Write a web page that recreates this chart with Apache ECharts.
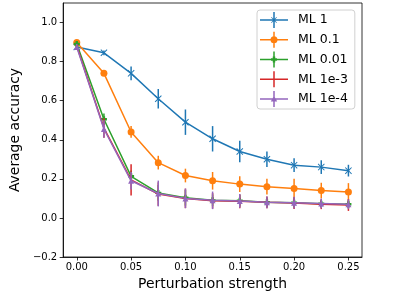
<!DOCTYPE html>
<html>
<head>
<meta charset="utf-8">
<script src="https://cdn.jsdelivr.net/npm/echarts@6/dist/echarts.min.js"></script>
<style>html,body{margin:0;padding:0;background:#fff;}#c{width:399px;height:296px;}</style>
</head>
<body>
<div id="c"></div>
<script>
const xs = [0, 0.025, 0.05, 0.075, 0.1, 0.125, 0.15, 0.175, 0.2, 0.225, 0.25];
const xTicks = [0, 0.05, 0.1, 0.15, 0.2, 0.25];
const yTicks = [-0.2, 0, 0.2, 0.4, 0.6, 0.8, 1.0];
const names = ['ML 1', 'ML 0.1', 'ML 0.01', 'ML 1e-3', 'ML 1e-4'];
const ml1      = [0.875, 0.845, 0.74, 0.61, 0.49, 0.405, 0.34, 0.30, 0.27, 0.26, 0.242];
const ml1Err   = [0.01, 0.012, 0.035, 0.05, 0.065, 0.065, 0.055, 0.04, 0.035, 0.035, 0.03];
const ml01     = [0.898, 0.74, 0.44, 0.283, 0.217, 0.19, 0.173, 0.16, 0.15, 0.14, 0.133];
const ml01Err  = [0.01, 0.01, 0.03, 0.035, 0.035, 0.045, 0.04, 0.04, 0.05, 0.04, 0.045];
const ml001    = [0.89, 0.505, 0.213, 0.128, 0.103, 0.09, 0.088, 0.08, 0.078, 0.073, 0.07];
const ml001Err = [0.01, 0.03, 0.03, 0.04, 0.04, 0.03, 0.03, 0.025, 0.025, 0.02, 0.02];
const ml1e3    = [0.88, 0.46, 0.195, 0.122, 0.1, 0.088, 0.085, 0.08, 0.076, 0.07, 0.066];
const ml1e3Err = [0.01, 0.05, 0.08, 0.06, 0.05, 0.04, 0.035, 0.03, 0.03, 0.025, 0.03];
const ml1e4    = [0.875, 0.455, 0.19, 0.125, 0.1, 0.09, 0.087, 0.08, 0.078, 0.074, 0.07];
const ml1e4Err = [0.015, 0.045, 0.045, 0.066, 0.05, 0.045, 0.035, 0.03, 0.03, 0.025, 0.025];

const values = [ml1, ml01, ml001, ml1e3, ml1e4];
const errs = [ml1Err, ml01Err, ml001Err, ml1e3Err, ml1e4Err];
const colors = ['#1f77b4', '#ff7f0e', '#2ca02c', '#d62728', '#9467bd'];

const SYM_X = 'path://M0 1 L1 0 L5 4 L9 0 L10 1 L6 5 L10 9 L9 10 L5 6 L1 10 L0 9 L4 5 Z';
const SYM_P = 'path://M3 0 H7 V3 H10 V7 H7 V10 H3 V7 H0 V3 H3 Z';
const symbols = [SYM_X, 'circle', SYM_P, 'none', 'triangle'];
const symSizes = [7, 7, 6, 0, 6];

const base = 'M0 7.25 H28 V8.75 H0 Z M13.25 0 H14.75 V16 H13.25 Z ';
const icons = [
  'path://' + base + 'M11.1 5.6 L11.6 5.1 L16.9 10.4 L16.4 10.9 Z M16.4 5.1 L16.9 5.6 L11.6 10.9 L11.1 10.4 Z',
  'path://' + base + 'M10.5 8 A3.5 3.5 0 1 1 17.5 8 A3.5 3.5 0 1 1 10.5 8 Z',
  'path://' + base + 'M12.75 5 H15.25 V6.75 H17 V9.25 H15.25 V11 H12.75 V9.25 H11 V6.75 H12.75 Z',
  'path://' + base,
  'path://' + base + 'M14 4.8 L17.2 10.6 L10.8 10.6 Z'
];

const series = [];
for (let i = 0; i < 5; i++) {
  const c = colors[i];
  series.push({
    type: 'custom',
    name: 'err' + i,
    data: xs.map((x, k) => [x, values[i][k], errs[i][k]]),
    renderItem: function (params, api) {
      const x = api.value(0), y = api.value(1), e = api.value(2);
      const p1 = api.coord([x, y - e]), p2 = api.coord([x, y + e]);
      return {type: 'line', shape: {x1: p1[0], y1: p1[1], x2: p2[0], y2: p2[1]},
              style: {stroke: c, lineWidth: 1.5}};
    },
    z: 2 + i * 2,
    silent: true
  });
  series.push({
    type: 'line',
    name: names[i],
    data: xs.map((x, k) => [x, values[i][k]]),
    symbol: symbols[i],
    symbolSize: symSizes[i],
    showAllSymbol: true,
    lineStyle: {color: c, width: 1.5},
    itemStyle: {color: c, borderWidth: 0},
    z: 3 + i * 2,
    animation: false
  });
}

const chart = echarts.init(document.getElementById('c'), null, {renderer: 'canvas'});
chart.setOption({
  animation: false,
  textStyle: {fontFamily: 'DejaVu Sans'},
  grid: {left: 51, right: 37, top: 3, bottom: 36, show: true, borderColor: '#000', borderWidth: 0.8, backgroundColor: 'transparent'},
  legend: {
    orient: 'vertical', left: 257, top: 10,
    itemWidth: 28, itemHeight: 16, itemGap: 3.75,
    padding: [2, 7, 2, 3],
    backgroundColor: '#fff', borderColor: '#d0d0d0', borderWidth: 1, borderRadius: 3,
    textStyle: {fontFamily: 'DejaVu Sans', fontSize: 12.5, color: '#000', padding: [0, 0, 0, 5]},
    data: names.map((n, i) => ({name: n, icon: icons[i], itemStyle: {color: colors[i], borderWidth: 0}}))
  },
  xAxis: {
    type: 'value', min: -0.0125, max: 0.2625,
    name: 'Perturbation strength', nameLocation: 'middle', nameGap: 20,
    nameTextStyle: {fontFamily: 'DejaVu Sans', fontSize: 13.9, color: '#000'},
    axisLine: {show: true, onZero: false, lineStyle: {color: '#000', width: 0.8}},
    axisTick: {show: true, inside: false, length: 3.5, lineStyle: {color: '#000', width: 0.8}, customValues: xTicks},
    axisLabel: {fontFamily: 'DejaVu Sans', fontSize: 10, color: '#000', margin: 5, customValues: xTicks,
      formatter: v => v.toFixed(2)},
    splitLine: {show: false}
  },
  yAxis: {
    type: 'value', min: -0.2, max: 1.1,
    name: 'Average accuracy', nameLocation: 'middle', nameGap: 32,
    nameTextStyle: {fontFamily: 'DejaVu Sans', fontSize: 13.9, color: '#000'},
    axisLine: {show: true, onZero: false, lineStyle: {color: '#000', width: 0.8}},
    axisTick: {show: true, inside: false, length: 3.5, lineStyle: {color: '#000', width: 0.8}, customValues: yTicks},
    axisLabel: {fontFamily: 'DejaVu Sans', fontSize: 10, color: '#000', margin: 6, customValues: yTicks,
      formatter: v => (v < 0 ? '\u2212' : '') + Math.abs(v).toFixed(1)},
    splitLine: {show: false}
  },
  series: series
});
</script>
</body>
</html>
